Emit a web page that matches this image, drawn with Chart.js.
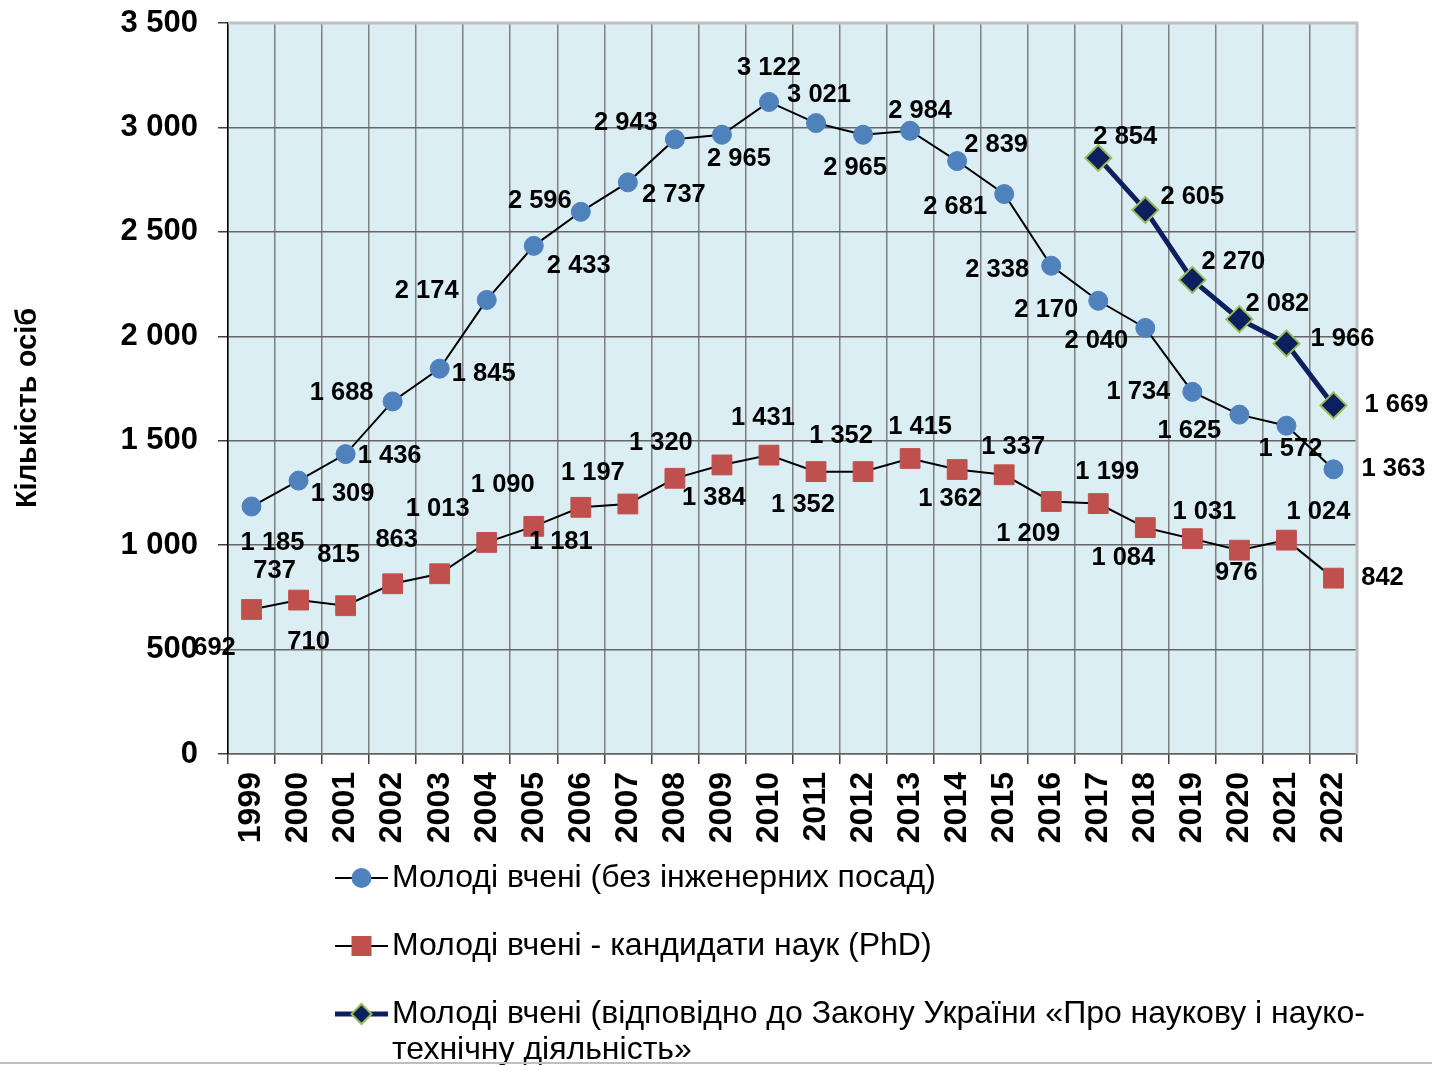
<!DOCTYPE html>
<html>
<head>
<meta charset="utf-8">
<script src="https://cdn.jsdelivr.net/npm/chart.js@4.4.1/dist/chart.umd.min.js"></script>
<style>
  html, body { margin: 0; padding: 0; background: #ffffff; }
  #wrap { width: 1432px; height: 1065px; position: relative; }
</style>
</head>
<body>
<div id="wrap"><canvas id="c" width="1432" height="1065"></canvas></div>
<script>
// ---- data ----
const years = ['1999','2000','2001','2002','2003','2004','2005','2006','2007','2008','2009','2010','2011','2012','2013','2014','2015','2016','2017','2018','2019','2020','2021','2022'];
const youngNoEng = [1185,1309,1436,1688,1845,2174,2433,2596,2737,2943,2965,3122,3021,2965,2984,2839,2681,2338,2170,2040,1734,1625,1572,1363];
const youngPhD = [692,737,710,815,863,1013,1090,1181,1197,1320,1384,1431,1352,1352,1415,1362,1337,1209,1199,1084,1031,976,1024,842];
const youngLaw = [null,null,null,null,null,null,null,null,null,null,null,null,null,null,null,null,null,null,2854,2605,2270,2082,1966,1669];
const seriesNames = [
  'Молоді вчені (без інженерних посад)',
  'Молоді вчені - кандидати наук (PhD)',
  'Молоді вчені (відповідно до Закону України «Про наукову і науко-технічну діяльність»'
];
const yAxisTitle = 'Кількість осіб';
const yTicks = [0,500,1000,1500,2000,2500,3000,3500];

// ---- label placement (pixel offsets of each value label from its point) ----
const offNoEng = [[21,36],[44,13],[44,2],[-51,-8],[44,5],[-60,-9],[45,20],[-41,-11],[46,13],[-49,-16],[17,24],[0,-34],[3,-28],[-8,33],[10,-20],[39,-16],[-49,13],[-54,4],[-52,9],[-49,13],[-54,0],[-50,16],[4,23],[60,0]];
const offPhD = [[-37,38],[-24,-29],[-37,36],[-54,-29],[-43,-34],[-49,-33],[-31,-41],[-20,35],[-35,-31],[-14,-35],[-8,33],[-6,-37],[-13,33],[-22,-36],[10,-31],[-7,29],[9,-28],[-23,32],[9,-32],[-22,30],[12,-27],[-3,23],[32,-28],[49,0]];
const offLaw = [null,null,null,null,null,null,null,null,null,null,null,null,null,null,null,null,null,null,[27,-21],[47,-13],[41,-18],[38,-15],[56,-4],[63,0]];
const labelOffsets = [offNoEng, offPhD, offLaw];

const FONT = '"Liberation Sans", Arial, sans-serif';
const fmt = v => String(v).replace(/\B(?=(\d{3})+(?!\d))/g, ' ');

const bgPlugin = {
  id: 'bg',
  beforeDraw(chart) {
    const {ctx, chartArea: a} = chart;
    ctx.save();
    ctx.fillStyle = '#ffffff';
    ctx.fillRect(0, 0, chart.width, chart.height);
    ctx.fillStyle = '#DAEEF3';
    ctx.fillRect(a.left, a.top, a.right - a.left, a.bottom - a.top);
    ctx.restore();
  },
  beforeDatasetsDraw(chart) {
    const {ctx, chartArea: a} = chart;
    ctx.save();
    ctx.strokeStyle = '#BFBFBF';
    ctx.lineWidth = 3;
    ctx.beginPath();
    ctx.moveTo(a.left, a.top);
    ctx.lineTo(a.right, a.top);
    ctx.lineTo(a.right, a.bottom);
    ctx.stroke();
    ctx.restore();
  }
};

const labelPlugin = {
  id: 'vlabels',
  afterDatasetsDraw(chart) {
    const ctx = chart.ctx;
    ctx.save();
    ctx.font = 'bold 25.5px ' + FONT;
    ctx.fillStyle = '#000000';
    ctx.textAlign = 'center';
    ctx.textBaseline = 'middle';
    chart.data.datasets.forEach((ds, di) => {
      const meta = chart.getDatasetMeta(di);
      ds.data.forEach((v, i) => {
        if (v === null) return;
        const p = meta.data[i];
        const o = labelOffsets[di][i] || [0, -25];
        ctx.fillText(fmt(v), p.x + o[0], p.y + o[1]);
      });
    });
    ctx.restore();
  }
};

function wrapText(ctx, text, maxW) {
  const tokens = text.match(/[^\s-]+-?|-|\s+/g);
  const lines = [];
  let cur = '';
  tokens.forEach(t => {
    const test = cur + t;
    if (ctx.measureText(test.trimEnd()).width > maxW && cur.trim() !== '') {
      lines.push(cur.trimEnd());
      cur = t.trim() === '' ? '' : t;
    } else {
      cur = test;
    }
  });
  if (cur.trim() !== '') lines.push(cur.trimEnd());
  return lines;
}

const decorPlugin = {
  id: 'decor',
  afterDraw(chart) {
    const ctx = chart.ctx;
    ctx.save();
    // y axis title
    ctx.translate(28, 408);
    ctx.rotate(-Math.PI / 2);
    ctx.font = 'bold 29px ' + FONT;
    ctx.fillStyle = '#000';
    ctx.textAlign = 'center';
    ctx.textBaseline = 'middle';
    ctx.fillText(yAxisTitle, 0, 0);
    ctx.restore();

    // legend
    const items = chart.data.datasets;
    const ys = [878, 946, 1014];
    const lx0 = 335, lx1 = 388, tx = 392;
    items.forEach((ds, i) => {
      const y = ys[i];
      ctx.save();
      ctx.strokeStyle = i === 2 ? '#0C1F5E' : '#000';
      ctx.lineWidth = i === 2 ? 5 : 2;
      ctx.beginPath();
      ctx.moveTo(lx0, y); ctx.lineTo(lx1, y);
      ctx.stroke();
      const cx = (lx0 + lx1) / 2;
      if (i === 0) {
        ctx.fillStyle = '#4F81BD';
        ctx.beginPath(); ctx.arc(cx, y, 10, 0, Math.PI * 2); ctx.fill();
      } else if (i === 1) {
        ctx.fillStyle = '#C0504D';
        ctx.fillRect(cx - 10, y - 10, 20, 20);
      } else {
        ctx.fillStyle = '#0C1F5E';
        ctx.strokeStyle = '#9BBB59';
        ctx.lineWidth = 2;
        ctx.beginPath();
        ctx.moveTo(cx, y - 10); ctx.lineTo(cx + 10, y); ctx.lineTo(cx, y + 10); ctx.lineTo(cx - 10, y);
        ctx.closePath(); ctx.fill(); ctx.stroke();
      }
      ctx.font = '32px ' + FONT;
      ctx.fillStyle = '#000';
      ctx.textAlign = 'left';
      ctx.textBaseline = 'middle';
      const lines = wrapText(ctx, ds.label, 1432 - tx - 30);
      lines.forEach((ln, k) => ctx.fillText(ln, tx, y + k * 36));
      ctx.restore();
    });

    // bottom frame line
    ctx.save();
    ctx.strokeStyle = '#BFBFBF';
    ctx.lineWidth = 2;
    ctx.beginPath();
    ctx.moveTo(0, 1063); ctx.lineTo(1432, 1063);
    ctx.stroke();
    ctx.restore();
  }
};

new Chart(document.getElementById('c'), {
  type: 'line',
  data: {
    labels: years,
    datasets: [
      {
        label: seriesNames[0], data: youngNoEng,
        borderColor: '#000000', borderWidth: 2,
        pointStyle: 'circle', pointRadius: 9.5, pointHoverRadius: 9.5,
        pointBackgroundColor: '#4F81BD', pointBorderColor: '#4F81BD', pointBorderWidth: 1,
        tension: 0
      },
      {
        label: seriesNames[1], data: youngPhD,
        borderColor: '#000000', borderWidth: 2,
        pointStyle: 'rect', pointRadius: 14, pointHoverRadius: 14,
        pointBackgroundColor: '#C0504D', pointBorderColor: '#C0504D', pointBorderWidth: 1,
        tension: 0
      },
      {
        label: seriesNames[2], data: youngLaw,
        borderColor: '#0C1F5E', borderWidth: 5,
        pointStyle: 'rectRot', pointRadius: 13, pointHoverRadius: 13,
        pointBackgroundColor: '#0C1F5E', pointBorderColor: '#9BBB59', pointBorderWidth: 2,
        tension: 0, spanGaps: false
      }
    ]
  },
  options: {
    responsive: false,
    animation: false,
    devicePixelRatio: 1,
    layout: { padding: { top: 23, right: 75, left: 0, bottom: 0 } },
    plugins: { legend: { display: false }, tooltip: { enabled: false }, title: { display: false } },
    scales: {
      x: {
        type: 'category',
        offset: true,
        grid: { offset: true, color: '#808080', lineWidth: 1.5, tickLength: 10, tickColor: '#404040', drawOnChartArea: true },
        border: { color: '#606060', width: 1.5 },
        ticks: {
          autoSkip: false, minRotation: 90, maxRotation: 90, padding: 8,
          color: '#000', font: { family: FONT, size: 32, weight: 'bold' }
        },
        afterFit(scale) { scale.height = 1065 - 754; scale.paddingLeft = 0; scale.paddingRight = 0; }
      },
      y: {
        min: 0, max: 3500,
        afterBuildTicks(scale) { scale.ticks = yTicks.map(v => ({ value: v })); },
        grid: { color: '#666666', lineWidth: 1.5, tickLength: 10, tickColor: '#404040' },
        border: { color: '#000000', width: 1.5 },
        ticks: {
          padding: 20, color: '#000',
          font: { family: FONT, size: 31, weight: 'bold' },
          callback: v => fmt(v)
        },
        afterFit(scale) { scale.width = 228; scale.paddingTop = 0; scale.paddingBottom = 0; }
      }
    }
  },
  plugins: [bgPlugin, labelPlugin, decorPlugin]
});
</script>
</body>
</html>
